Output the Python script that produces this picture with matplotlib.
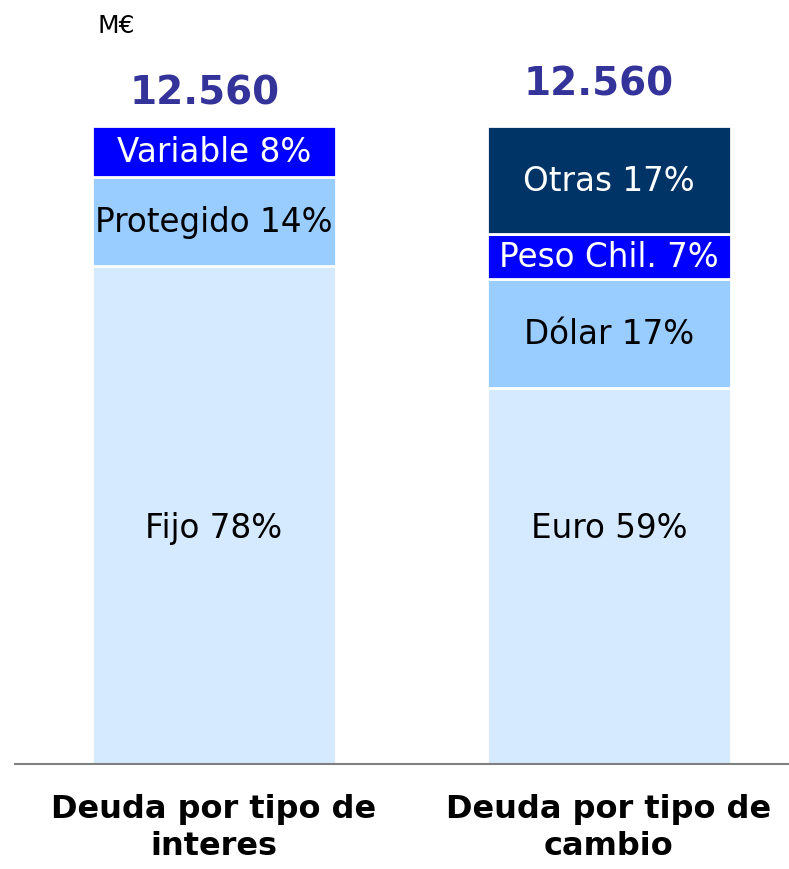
import matplotlib.pyplot as plt

categories = ['Deuda por tipo de\ninteres', 'Deuda por tipo de\ncambio']
totals = ['12.560', '12.560']

# segments bottom -> top for each bar
interest_labels = ['Fijo', 'Protegido', 'Variable']
interest_values = [78, 14, 8]
currency_labels = ['Euro', 'Dólar', 'Peso Chil.', 'Otras']
currency_values = [59, 17, 7, 17]

LIGHT = '#D6EAFF'
MID = '#99CCFF'
BLUE = '#0000FF'
NAVY = '#003366'

interest_colors = [LIGHT, MID, BLUE]
currency_colors = [LIGHT, MID, BLUE, NAVY]

fig = plt.figure(figsize=(7.89, 8.70), dpi=100)
ax = fig.add_axes([15 / 789, 105 / 870, 774 / 789, 705 / 870])

bar_width = 0.618
BASE_LABEL_Y = 37  # bottom segment labels sit at the same height on both bars


def draw_stack(x, labels, values, colors):
    bottom = 0
    for i, (lab, val, col) in enumerate(zip(labels, values, colors)):
        ax.bar(x, val, bottom=bottom, width=bar_width, color=col,
               edgecolor='white', linewidth=2)
        txt_color = 'white' if col in (BLUE, NAVY) else 'black'
        y = BASE_LABEL_Y if i == 0 else bottom + val / 2
        ax.text(x, y, '%s %d%%' % (lab, val), ha='center', va='center',
                fontsize=23.5, color=txt_color)
        bottom += val
    return bottom


tops = [draw_stack(0, interest_labels, interest_values, interest_colors),
        draw_stack(1, currency_labels, currency_values, currency_colors)]

for i, (top, total) in enumerate(zip(tops, totals)):
    ax.text(i - 0.025, top + 5.2 + i * 1.5, total, ha='center', va='center',
            fontsize=28, fontweight='bold', color='#333399')

ax.set_xlim(-0.504, 1.456)
ax.set_ylim(0, 110.5)
ax.set_xticks([0, 1])
ax.set_xticklabels(categories, fontsize=23, fontweight='bold', linespacing=1.25)
ax.tick_params(axis='x', length=0, pad=21)
ax.set_yticks([])
for side in ['top', 'left', 'right']:
    ax.spines[side].set_visible(False)
ax.spines['bottom'].set_color('#808080')
ax.spines['bottom'].set_linewidth(1.5)

fig.text(97 / 789, 1 - 26 / 870, 'M€', ha='left', va='center', fontsize=18)

plt.savefig('out.png', dpi=100)
